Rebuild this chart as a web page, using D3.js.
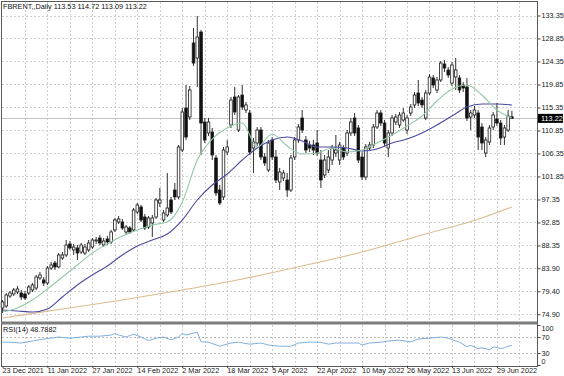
<!DOCTYPE html>
<html>
<head>
<meta charset="utf-8">
<script src="https://cdn.jsdelivr.net/npm/d3@7"></script>
<style>
  body { margin: 0; background: #fff; }
  svg { display: block; font-family: "Liberation Sans", Arial, sans-serif; }
</style>
</head>
<body>
<svg id="chart"></svg>
<script>
// ---- data ----
const dateLabels = ["23 Dec 2021", "11 Jan 2022", "27 Jan 2022", "14 Feb 2022", "2 Mar 2022", "18 Mar 2022",
  "5 Apr 2022", "22 Apr 2022", "10 May 2022", "26 May 2022", "13 Jun 2022", "29 Jun 2022"];
const labelBars = [0, 12, 24, 36, 48, 60, 72, 84, 96, 108, 120, 132];
const priceTicks = [133.35, 128.85, 124.35, 119.85, 115.35, 110.85, 106.35, 101.85, 97.35, 92.85, 88.35, 83.90, 79.40, 74.90];
const rsiTicks = [100, 70, 30, 0];
const rsiLevels = [70, 30];

const open = [
  76.12, 76.51, 78.46, 78.86, 79.25, 79.05, 78.86, 79.05, 79.64, 80.03,
  81.99, 81.60, 81.01, 83.94, 84.92, 84.14, 85.90, 86.49, 88.64, 87.47,
  87.86, 87.07, 86.88, 87.47, 88.05, 89.23, 89.81, 88.44, 89.62, 89.03,
  91.38, 92.94, 92.94, 90.99, 91.77, 91.38, 94.90, 95.88, 93.92, 91.97,
  92.75, 93.92, 96.66, 93.33, 94.31, 97.25, 99.20, 97.84, 107.03, 115.25,
  113.49, 127.97, 125.03, 130.12, 112.51, 110.36, 110.55, 105.47, 99.20, 97.84,
  106.64, 111.92, 117.40, 110.94, 117.79, 114.86, 114.27, 107.42, 108.40, 110.94,
  105.66, 103.12, 108.99, 105.66, 100.77, 101.55, 101.16, 99.20, 105.66, 108.99,
  113.29, 108.99, 108.01, 108.01, 108.40, 105.07, 102.14, 103.12, 105.07, 106.44,
  105.07, 107.42, 106.44, 110.36, 113.29, 111.34, 105.66, 101.75, 107.42, 108.01,
  111.53, 114.27, 112.31, 107.42, 110.36, 112.51, 111.92, 112.90, 110.94, 114.27,
  115.84, 118.18, 116.81, 113.29, 118.18, 121.12, 118.77, 120.73, 123.86, 122.68,
  120.14, 121.31, 121.12, 119.75, 119.36, 113.49, 113.88, 114.27, 111.53, 106.44,
  108.60, 111.53, 113.09, 112.31, 109.57, 110.94, 113.53
];
const high = [
  77.68, 79.05, 79.44, 80.03, 80.42, 79.64, 79.44, 80.62, 81.01, 82.57,
  83.16, 82.18, 84.33, 85.12, 85.31, 86.88, 87.07, 89.42, 89.23, 88.64,
  88.44, 88.84, 88.64, 89.42, 89.81, 90.01, 90.40, 89.81, 90.20, 91.38,
  93.73, 94.12, 93.53, 92.36, 92.16, 95.68, 96.66, 96.27, 94.51, 94.12,
  94.31, 97.64, 99.60, 95.29, 102.53, 97.84, 100.57, 108.01, 115.25, 119.75,
  119.55, 130.90, 133.25, 130.51, 113.29, 113.29, 111.34, 106.05, 100.18, 107.62,
  108.99, 117.40, 119.36, 117.79, 119.75, 116.42, 114.86, 109.38, 111.53, 111.53,
  106.44, 108.99, 109.57, 107.03, 103.51, 103.12, 102.53, 106.05, 109.57, 112.12,
  114.86, 109.77, 108.79, 108.99, 110.94, 107.03, 106.05, 107.03, 108.01, 109.97,
  108.60, 108.01, 110.94, 113.29, 114.27, 111.92, 106.64, 108.20, 108.60, 112.12,
  114.86, 114.86, 112.90, 110.94, 113.88, 114.07, 114.47, 115.25, 113.88, 116.03,
  118.38, 120.73, 117.40, 118.77, 121.90, 121.71, 121.31, 124.45, 124.64, 123.27,
  124.25, 125.03, 121.71, 120.34, 121.12, 114.86, 115.64, 114.86, 112.31, 109.57,
  111.92, 114.47, 116.23, 112.90, 111.92, 114.86, 114.72
];
const low = [
  75.14, 76.12, 78.07, 78.46, 78.86, 77.68, 77.68, 78.66, 79.25, 79.64,
  81.60, 80.42, 80.62, 83.55, 83.55, 83.94, 85.51, 86.09, 87.47, 86.49,
  85.51, 86.68, 86.49, 87.07, 87.66, 88.64, 88.44, 88.05, 88.44, 88.64,
  90.99, 92.55, 91.38, 90.40, 90.60, 90.99, 94.51, 92.94, 91.38, 91.57,
  90.01, 93.53, 95.88, 92.94, 93.92, 94.51, 97.25, 97.44, 106.64, 108.99,
  112.90, 123.47, 119.36, 106.05, 108.40, 109.77, 105.07, 98.03, 96.27, 97.25,
  106.05, 111.34, 113.88, 110.55, 114.86, 114.27, 106.05, 102.53, 107.81, 105.07,
  103.90, 102.73, 105.07, 100.57, 99.20, 100.97, 97.84, 98.81, 105.07, 108.40,
  110.36, 106.44, 106.64, 106.05, 105.86, 99.60, 101.55, 102.53, 104.10, 105.66,
  104.10, 105.07, 105.86, 109.77, 109.77, 104.49, 101.16, 101.16, 106.84, 107.42,
  111.14, 111.73, 107.81, 105.66, 109.77, 111.92, 111.34, 112.51, 110.16, 113.68,
  115.25, 115.64, 115.25, 112.90, 117.79, 119.16, 118.18, 120.34, 122.29, 121.12,
  119.55, 118.77, 118.18, 118.38, 112.71, 110.94, 113.29, 107.03, 107.03, 105.66,
  108.01, 110.94, 111.73, 108.01, 108.01, 110.55, 113.09
];
const close = [
  77.29, 78.66, 79.05, 79.64, 79.83, 78.27, 78.07, 80.23, 80.62, 82.18,
  82.57, 81.01, 83.94, 84.53, 84.14, 86.49, 86.49, 88.44, 87.86, 88.05,
  86.88, 88.44, 88.05, 88.84, 89.42, 89.42, 88.84, 89.23, 89.03, 90.99,
  93.33, 93.53, 91.77, 91.97, 90.99, 95.29, 96.27, 93.33, 91.77, 93.73,
  93.73, 97.25, 97.25, 94.71, 95.68, 94.90, 97.84, 107.62, 114.47, 109.57,
  118.77, 124.05, 129.14, 112.31, 108.99, 112.51, 106.05, 98.62, 96.66, 107.03,
  107.62, 116.81, 114.47, 117.40, 115.44, 115.84, 106.64, 108.60, 110.94, 105.66,
  104.49, 108.40, 105.66, 101.16, 102.73, 102.53, 99.20, 105.47, 108.99, 111.53,
  110.94, 107.03, 107.42, 107.03, 106.44, 101.16, 105.07, 105.66, 107.42, 107.03,
  108.01, 105.66, 110.36, 112.51, 110.36, 105.07, 101.75, 107.62, 108.01, 111.53,
  114.27, 112.31, 108.40, 110.36, 113.29, 113.49, 113.88, 114.27, 113.29, 115.44,
  117.79, 116.23, 115.84, 118.18, 121.31, 119.75, 120.73, 124.05, 123.07, 121.71,
  123.66, 122.68, 118.77, 119.16, 113.29, 114.27, 114.86, 109.57, 108.40, 108.99,
  111.34, 113.88, 112.31, 109.38, 111.34, 113.68, 113.22
];

// moving averages, read every 4 bars
const maIdx = [0, 4, 8, 12, 16, 20, 24, 28, 32, 36, 40, 44, 48, 52, 56, 60, 64, 68,
  72, 76, 80, 84, 88, 92, 96, 100, 104, 108, 112, 116, 120, 124, 128, 132, 136];
const maFast = [75.33, 76.12, 77.68, 79.83, 82.18, 84.53, 86.88, 88.64, 90.20, 91.38, 92.36, 92.94,
  96.86, 105.07, 109.18, 111.34, 112.31, 107.62, 110.16, 107.81, 106.25, 106.44, 107.42, 106.64,
  107.03, 108.40, 109.97, 111.73, 113.68, 116.62, 118.97, 119.75, 117.79, 114.86, 113.29];
const maSlow = [75.73, 75.53, 75.33, 75.92, 78.27, 80.62, 82.57, 84.33, 86.49, 88.25, 89.42, 90.60,
  93.33, 97.25, 100.18, 102.34, 105.07, 107.42, 108.99, 109.57, 108.79, 107.62, 107.62, 107.42,
  106.84, 107.23, 108.40, 109.18, 110.36, 111.92, 113.68, 115.44, 116.03, 116.03, 115.84];
const maLongIdx = [0, 16, 32, 48, 64, 80, 96, 112, 128, 136];
const maLong = [74.16, 75.92, 77.68, 79.64, 81.79, 84.33, 87.07, 90.40, 93.73, 95.88];

// RSI(14)
const rsiIdx = [0, 2, 5, 8, 11, 13, 15, 18, 21, 23, 26, 29, 30, 31, 33, 35, 37, 39, 41, 43, 45, 47, 48, 49,
  52, 53, 55, 58, 61, 63, 66, 69, 71, 74, 77, 79, 82, 85, 87, 89, 92, 95, 96, 98, 101, 103, 106, 109,
  111, 114, 117, 119, 122, 124, 125, 127, 128, 130, 131, 132, 133, 134, 135, 136];
const rsiVal = [57, 57, 55, 60, 65, 67, 70, 67, 70, 72, 72, 75, 79, 75, 70, 77, 70, 61, 67, 70, 63, 70, 79, 75,
  82, 58, 57, 47, 55, 57, 52, 55, 50, 47, 47, 55, 57, 57, 52, 55, 55, 55, 50, 55, 57, 60, 62, 58,
  65, 67, 70, 67, 57, 46, 49, 41, 43, 38, 45, 44, 41, 43, 47, 48.79];

const symbolTitle = "FBRENT,,Daily";
const rsiTitle = "RSI(14) 48.7882";

// ---- layout ----
const W = 564, H = 376;
const frame = {left: 1.5, right: 537.5, top: 1.5, sep: 323, bottom: 366};
const fontSize = 7.3;
const bodyW = 2.6;

const svg = d3.select("#chart").attr("width", W).attr("height", H);

const x = d3.scaleLinear().domain([0, 136]).range([2.5, 511.9]);
const y = d3.scaleLinear().domain([74.90, 133.35]).range([314.2, 15.5]);
const yr = d3.scaleLinear().domain([0, 100]).range([365, 325]);

const bars = open.map((o, i) => ({i: i, o: o, h: high[i], l: low[i], c: close[i]}));
const gridBars = d3.range(6, 141, 6);

// grid
const grid = svg.append("g")
  .attr("stroke", "#cfcfcf")
  .attr("stroke-dasharray", "2,2")
  .attr("shape-rendering", "crispEdges");

grid.selectAll(".gh").data(priceTicks).enter().append("line")
  .attr("x1", frame.left).attr("x2", frame.right)
  .attr("y1", d => Math.round(y(d)) + 0.5).attr("y2", d => Math.round(y(d)) + 0.5);

grid.selectAll(".gv").data(gridBars).enter().append("line")
  .attr("x1", d => Math.round(x(d)) + 0.5).attr("x2", d => Math.round(x(d)) + 0.5)
  .attr("y1", frame.top).attr("y2", frame.sep - 2);

grid.selectAll(".gvr").data(gridBars).enter().append("line")
  .attr("x1", d => Math.round(x(d)) + 0.5).attr("x2", d => Math.round(x(d)) + 0.5)
  .attr("y1", frame.sep + 2).attr("y2", frame.bottom);

grid.selectAll(".lv").data(rsiLevels).enter().append("line")
  .attr("x1", frame.left).attr("x2", frame.right)
  .attr("y1", d => Math.round(yr(d)) + 0.5).attr("y2", d => Math.round(yr(d)) + 0.5)
  .attr("stroke", "#b8b8b8");

// bid line
const last = close[close.length - 1];
svg.append("line")
  .attr("x1", frame.left).attr("x2", frame.right)
  .attr("y1", Math.round(y(last)) + 0.5).attr("y2", Math.round(y(last)) + 0.5)
  .attr("stroke", "#c4c4c4");

// candles
const gCandles = svg.append("g");
const candle = gCandles.selectAll(".candle").data(bars).enter().append("g");

candle.append("line")
  .attr("x1", d => x(d.i)).attr("x2", d => x(d.i))
  .attr("y1", d => y(d.h)).attr("y2", d => y(d.l))
  .attr("stroke", "#1a1a1a").attr("stroke-width", 0.9);

candle.append("rect")
  .attr("x", d => x(d.i) - bodyW / 2)
  .attr("width", bodyW)
  .attr("y", d => y(Math.max(d.o, d.c)))
  .attr("height", d => Math.max(0.8, Math.abs(y(d.o) - y(d.c))))
  .attr("fill", d => d.c >= d.o ? "#ffffff" : "#111111")
  .attr("stroke", "#1a1a1a").attr("stroke-width", 0.8);

// moving averages
const maLine = d3.line().x(d => x(d[0])).y(d => y(d[1])).curve(d3.curveMonotoneX);

svg.append("path")
  .attr("d", maLine(maLongIdx.map((d, i) => [d, maLong[i]])))
  .attr("fill", "none").attr("stroke", "#dcbc90").attr("stroke-width", 1.1);

svg.append("path")
  .attr("d", maLine(maIdx.map((d, i) => [d, maSlow[i]])))
  .attr("fill", "none").attr("stroke", "#4a4aa0").attr("stroke-width", 1.1);

svg.append("path")
  .attr("d", maLine(maIdx.map((d, i) => [d, maFast[i]])))
  .attr("fill", "none").attr("stroke", "#92c9a6").attr("stroke-width", 1.1);

// RSI line
svg.append("path")
  .attr("d", d3.line().x(d => x(d[0])).y(d => yr(d[1]))(rsiIdx.map((d, i) => [d, rsiVal[i]])))
  .attr("fill", "none").attr("stroke", "#7fb0de").attr("stroke-width", 1);

// frame + separator
svg.append("rect")
  .attr("x", frame.left).attr("y", frame.top)
  .attr("width", frame.right - frame.left).attr("height", frame.bottom - frame.top)
  .attr("fill", "none").attr("stroke", "#5a5a5a").attr("stroke-width", 1)
  .attr("shape-rendering", "crispEdges");

svg.append("line")
  .attr("x1", frame.left).attr("x2", frame.right)
  .attr("y1", frame.sep).attr("y2", frame.sep)
  .attr("stroke", "#7c7c7c").attr("stroke-width", 3);

// price axis
const priceAxis = svg.append("g")
  .attr("transform", `translate(${frame.right},0)`)
  .call(d3.axisRight(y).tickValues(priceTicks).tickSize(3).tickPadding(1).tickFormat(d3.format(".2f")));
priceAxis.select(".domain").remove();
priceAxis.selectAll("text").style("font-size", fontSize + "px").attr("fill", "#222");
priceAxis.selectAll("line").attr("stroke", "#444");

// rsi axis
const rsiAxis = svg.append("g")
  .attr("transform", `translate(${frame.right},0)`)
  .call(d3.axisRight(yr).tickValues(rsiTicks).tickSize(3).tickPadding(1));
rsiAxis.select(".domain").remove();
rsiAxis.selectAll("text").style("font-size", fontSize + "px").attr("fill", "#222")
  .attr("dy", d => d === 100 ? "0.75em" : (d === 0 ? "-0.2em" : "0.32em"));
rsiAxis.selectAll("line").attr("stroke", "#444");

// time axis
const timeAxis = svg.append("g")
  .attr("transform", `translate(0,${frame.bottom})`)
  .call(d3.axisBottom(x).tickValues(labelBars).tickSize(2).tickFormat((d, i) => dateLabels[i]));
timeAxis.select(".domain").remove();
timeAxis.selectAll("text")
  .style("font-size", fontSize + "px").attr("fill", "#222")
  .attr("text-anchor", "start").attr("x", -0.5).attr("y", 1.5).attr("dy", "0.71em");
timeAxis.selectAll("line").attr("stroke", "#444");

// last price tag
const tag = svg.append("g").attr("transform", `translate(${frame.right},${y(last)})`);
tag.append("rect").attr("x", 0.5).attr("y", -4.5).attr("width", 25).attr("height", 9).attr("fill", "#000");
tag.append("text").attr("x", 3.5).attr("dy", "0.34em")
  .style("font-size", fontSize + "px").attr("fill", "#fff")
  .text(d3.format(".2f")(last));

// titles
svg.append("text").attr("x", 3).attr("y", 8.8)
  .style("font-size", fontSize + "px").attr("fill", "#111")
  .text(symbolTitle + "  " + [open, high, low, close].map(a => d3.format(".2f")(a[a.length - 1])).join(" "));

svg.append("text").attr("x", 3).attr("y", 332)
  .style("font-size", fontSize + "px").attr("fill", "#111")
  .text(rsiTitle);
</script>
</body>
</html>
